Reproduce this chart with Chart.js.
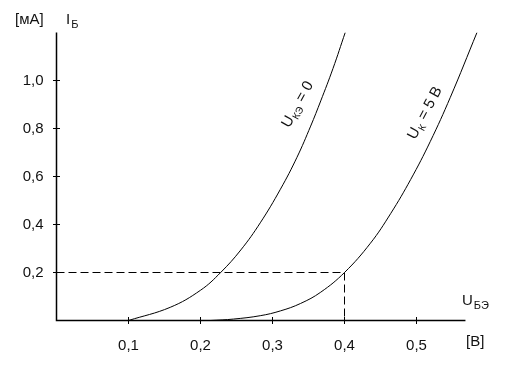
<!DOCTYPE html>
<html>
<head>
<meta charset="utf-8">
<script src="https://cdn.jsdelivr.net/npm/chart.js@4/dist/chart.umd.min.js"></script>
<style>
  html, body { margin: 0; padding: 0; background: #fff; }
  #chart { display: block; }
</style>
</head>
<body>
<canvas id="chart" width="527" height="369"></canvas>
<script>
// input characteristics of the transistor, I_Б (mA) vs U_БЭ (V)
const curve1X = [0.1, 0.158, 0.2, 0.228, 0.256, 0.283, 0.311, 0.334, 0.353, 0.367, 0.384, 0.401];
const curve1Y = [0, 0.055, 0.126, 0.2, 0.294, 0.407, 0.547, 0.68, 0.81, 0.915, 1.05, 1.2];
const curve2X = [0.214, 0.246, 0.283, 0.311, 0.339, 0.367, 0.4, 0.436, 0.464, 0.492, 0.519, 0.547, 0.584];
const curve2Y = [0, 0.006, 0.02, 0.04, 0.071, 0.118, 0.2, 0.322, 0.445, 0.588, 0.745, 0.93, 1.2];
const guideX = [0, 0.4, 0.4];
const guideY = [0.2, 0.2, 0];

const xTicks = [0.1, 0.2, 0.3, 0.4, 0.5];
const xTickLabels = ["0,1", "0,2", "0,3", "0,4", "0,5"];
const yTicks = [0.2, 0.4, 0.6, 0.8, 1.0];
const yTickLabels = ["0,2", "0,4", "0,6", "0,8", "1,0"];
const xAxisEnd = 0.568;
const yAxisEnd = 1.2;

const toPoints = (xs, ys) => xs.map((x, i) => ({ x, y: ys[i] }));

const FONT = "Liberation Sans, Arial, sans-serif";

function subText(ctx, x, y, main, sub, size) {
  ctx.textAlign = "left";
  ctx.textBaseline = "middle";
  ctx.font = `${size}px ${FONT}`;
  const w1 = ctx.measureText(main).width;
  ctx.fillText(main, x, y);
  ctx.font = `${Math.round(size * 0.7)}px ${FONT}`;
  ctx.fillText(sub, x + w1 + 1, y + size * 0.35);
}

const axesPlugin = {
  id: "axes",
  afterDraw(chart) {
    const ctx = chart.ctx;
    const xs = chart.scales.x;
    const ys = chart.scales.y;
    const x0 = xs.getPixelForValue(0);
    const y0 = ys.getPixelForValue(0);
    ctx.save();
    ctx.strokeStyle = "#000";
    ctx.fillStyle = "#111";
    ctx.lineWidth = 1.5;
    ctx.beginPath();
    ctx.moveTo(x0, ys.getPixelForValue(yAxisEnd));
    ctx.lineTo(x0, y0);
    ctx.lineTo(xs.getPixelForValue(xAxisEnd), y0);
    ctx.stroke();

    ctx.lineWidth = 1;
    ctx.font = `15px ${FONT}`;
    ctx.textBaseline = "middle";
    ctx.textAlign = "center";
    xTicks.forEach((v, i) => {
      const px = Math.floor(xs.getPixelForValue(v)) + 0.5;
      ctx.beginPath();
      ctx.moveTo(px, y0 - 3.5);
      ctx.lineTo(px, y0 + 3.5);
      ctx.stroke();
      ctx.fillText(xTickLabels[i], px, y0 + 25);
    });
    ctx.textAlign = "right";
    yTicks.forEach((v, i) => {
      const py = Math.floor(ys.getPixelForValue(v)) + 0.5;
      ctx.beginPath();
      ctx.moveTo(x0 - 3.5, py);
      ctx.lineTo(x0 + 3.5, py);
      ctx.stroke();
      ctx.fillText(yTickLabels[i], x0 - 13, py);
    });

    // axis titles
    ctx.textAlign = "left";
    ctx.fillText("[мА]", 15, 20);
    subText(ctx, 66, 20, "I", "Б", 15);
    subText(ctx, 462, 301, "U", "БЭ", 15);
    ctx.font = `15px ${FONT}`;
    ctx.textAlign = "left";
    ctx.fillText("[В]", 466, 342);

    // curve labels
    const lab = [
      { x: 0.335, y: 0.9, main: "U", sub: "КЭ", rest: " = 0", ang: -61 },
      { x: 0.512, y: 0.865, main: "U", sub: "К", rest: " = 5 В", ang: -62 },
    ];
    lab.forEach((l) => {
      ctx.save();
      ctx.translate(xs.getPixelForValue(l.x), ys.getPixelForValue(l.y));
      ctx.rotate((l.ang * Math.PI) / 180);
      ctx.font = `15px ${FONT}`;
      const w1 = ctx.measureText(l.main).width;
      ctx.font = `10px ${FONT}`;
      const w2 = ctx.measureText(l.sub).width;
      ctx.font = `15px ${FONT}`;
      const w3 = ctx.measureText(l.rest).width;
      const sx = -(w1 + w2 + w3 + 1) / 2;
      ctx.textAlign = "left";
      ctx.textBaseline = "middle";
      ctx.fillText(l.main, sx, 0);
      ctx.font = `10px ${FONT}`;
      ctx.fillText(l.sub, sx + w1 + 0.5, 5);
      ctx.font = `15px ${FONT}`;
      ctx.fillText(l.rest, sx + w1 + w2 + 1, 0);
      ctx.restore();
    });
    ctx.restore();
  },
};

const curveStyle = {
  showLine: true,
  borderColor: "#000",
  borderWidth: 1,
  pointRadius: 0,
  tension: 0.4,
};

new Chart(document.getElementById("chart"), {
  type: "scatter",
  data: {
    datasets: [
      { ...curveStyle, data: toPoints(curve1X, curve1Y) },
      { ...curveStyle, data: toPoints(curve2X, curve2Y) },
      {
        data: toPoints(guideX, guideY),
        showLine: true,
        borderColor: "#000",
        borderWidth: 1,
        borderDash: [8, 4],
        pointRadius: 0,
        tension: 0,
      },
    ],
  },
  options: {
    responsive: false,
    devicePixelRatio: 1,
    animation: false,
    layout: { padding: { left: 56.5, right: 38.5, top: 32.5, bottom: 48.5 } },
    plugins: { legend: { display: false }, tooltip: { enabled: false } },
    scales: {
      x: { type: "linear", min: 0, max: 0.6, display: false },
      y: { type: "linear", min: 0, max: 1.2, display: false },
    },
  },
  plugins: [axesPlugin],
});
</script>
</body>
</html>
